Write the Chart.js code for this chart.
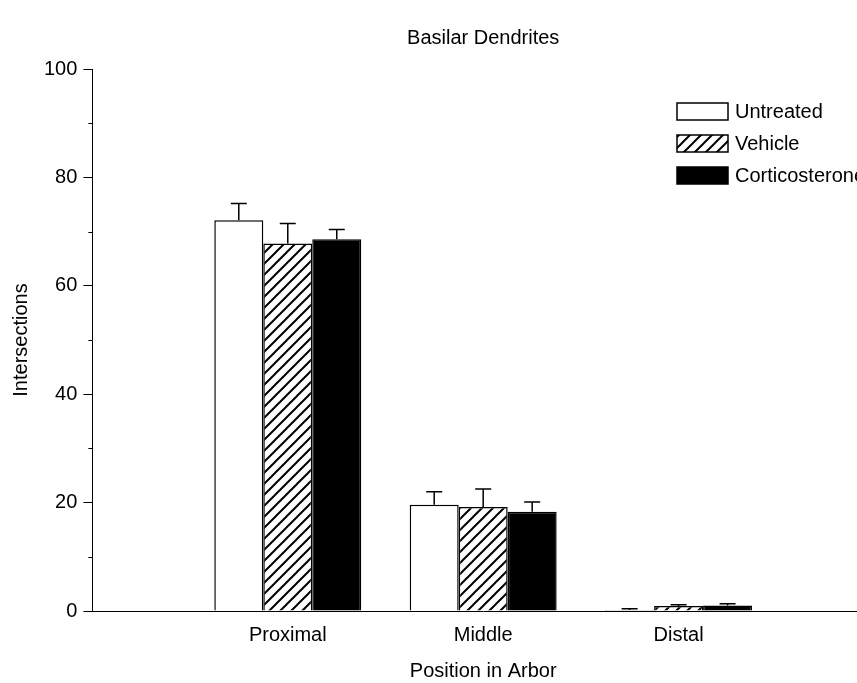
<!DOCTYPE html>
<html>
<head>
<meta charset="utf-8">
<script src="https://cdn.jsdelivr.net/npm/chart.js@4"></script>
<style>
  html, body { margin: 0; padding: 0; background: #fff; overflow: hidden; }
  canvas { display: block; }
</style>
</head>
<body>
<canvas id="myChart" width="886" height="683"></canvas>
<script>
// categories (blank slots at both ends keep the groups where the original axis put them)
var posiciones = ["", "Proximal", "Middle", "Distal", ""];
var series = ["Untreated", "Vehicle", "Corticosterone"];

// means
var untreated = [null, 72.1, 19.6, 0.2, null];
var vehicle = [null, 67.8, 19.2, 0.9, null];
var corticosterone = [null, 68.6, 18.3, 1.0, null];

// SEM (upper error bars only)
var untreatedErr = [null, 3.1, 2.4, 0.2, null];
var vehicleErr = [null, 3.7, 3.3, 0.25, null];
var corticosteroneErr = [null, 1.8, 1.8, 0.35, null];

var yTicksMin = 0;
var yTicksMax = 100;
var yStep = 10;

var fuente = "'Liberation Sans', Arial, Helvetica, sans-serif";
var tam = 20;

// diagonal "/" hatch for the vehicle bars
var hacerRayado = function () {
  var s = 11;
  var c = document.createElement("canvas");
  c.width = s;
  c.height = s;
  var g = c.getContext("2d");
  g.fillStyle = "#fff";
  g.fillRect(0, 0, s, s);
  g.strokeStyle = "#000";
  g.lineWidth = 2;
  g.beginPath();
  g.moveTo(0, s);
  g.lineTo(s, 0);
  g.moveTo(-2, 2);
  g.lineTo(2, -2);
  g.moveTo(s - 2, s + 2);
  g.lineTo(s + 2, s - 2);
  g.stroke();
  return g.createPattern(c, "repeat");
};

var canva = document.getElementById("myChart").getContext("2d");
var rayado = hacerRayado();

var errores = [untreatedErr, vehicleErr, corticosteroneErr];

var barrasError = {
  id: "barrasError",
  afterDatasetsDraw: function (chart) {
    var ctx = chart.ctx;
    var y = chart.scales.y;
    ctx.save();
    ctx.strokeStyle = "#000";
    ctx.lineWidth = 1.5;
    chart.data.datasets.forEach(function (ds, i) {
      var meta = chart.getDatasetMeta(i);
      meta.data.forEach(function (bar, j) {
        var v = ds.data[j];
        var e = errores[i][j];
        if (v == null || e == null) return;
        var top = y.getPixelForValue(v + e);
        var x = bar.x;
        ctx.beginPath();
        ctx.moveTo(x, bar.y);
        ctx.lineTo(x, top);
        ctx.moveTo(x - 8, top);
        ctx.lineTo(x + 8, top);
        ctx.stroke();
      });
    });
    ctx.restore();
  },
};

var ticksMenores = {
  id: "ticksMenores",
  afterDraw: function (chart) {
    var ctx = chart.ctx;
    var y = chart.scales.y;
    var x0 = chart.chartArea.left;
    ctx.save();
    ctx.strokeStyle = "#000";
    ctx.lineWidth = 1;
    y.ticks.forEach(function (t) {
      if (t.value % 20 === 0) return;
      var py = Math.round(y.getPixelForValue(t.value)) + 0.5;
      ctx.beginPath();
      ctx.moveTo(x0 - 4, py);
      ctx.lineTo(x0, py);
      ctx.stroke();
    });
    ctx.restore();
  },
};

var leyenda = {
  id: "leyenda",
  afterDraw: function (chart) {
    var ctx = chart.ctx;
    var left = 677;
    var top = 103;
    var w = 51;
    var h = 17;
    var paso = 32;
    ctx.save();
    ctx.font = tam + "px " + fuente;
    ctx.textBaseline = "middle";
    ctx.textAlign = "left";
    chart.data.datasets.forEach(function (ds, i) {
      var by = top + i * paso;
      ctx.fillStyle = ds.backgroundColor;
      ctx.fillRect(left, by, w, h);
      ctx.strokeStyle = "#000";
      ctx.lineWidth = 1.5;
      ctx.strokeRect(left, by, w, h);
      ctx.fillStyle = "#000";
      ctx.fillText(ds.label, left + w + 7, by + h / 2 + 1);
    });
    ctx.restore();
  },
};

var grafico = new Chart(canva, {
  type: "bar",
  data: {
    labels: posiciones,
    datasets: [
      {
        label: series[0],
        data: untreated,
        backgroundColor: "#ffffff",
        borderColor: "#000",
        borderWidth: 1.5,
      },
      {
        label: series[1],
        data: vehicle,
        backgroundColor: rayado,
        borderColor: "#000",
        borderWidth: 1.5,
      },
      {
        label: series[2],
        data: corticosterone,
        backgroundColor: "#000000",
        borderColor: "#000",
        borderWidth: 1.5,
      },
    ],
  },
  options: {
    responsive: false,
    animation: false,
    layout: {
      padding: { top: 0, bottom: 0, left: 0, right: 0 },
    },
    datasets: {
      bar: {
        categoryPercentage: 0.752,
        barPercentage: 1.0,
        grouped: true,
      },
    },
    scales: {
      x: {
        offset: false,
        grid: { display: false, drawTicks: false },
        border: { display: true, color: "#000", width: 1 },
        ticks: {
          color: "#000",
          padding: 12,
          autoSkip: false,
          maxRotation: 0,
          font: { family: fuente, size: tam },
        },
        title: {
          display: true,
          text: "Position in Arbor",
          color: "#000",
          padding: { top: 0, bottom: 0 },
          font: { family: fuente, size: tam },
        },
      },
      y: {
        min: yTicksMin,
        max: yTicksMax,
        grid: {
          drawOnChartArea: false,
          drawTicks: true,
          tickLength: 9,
          tickColor: function (c) {
            return c.tick && c.tick.value % 20 === 0 ? "#000" : "rgba(0,0,0,0)";
          },
        },
        border: { display: true, color: "#000", width: 1 },
        ticks: {
          stepSize: yStep,
          color: "#000",
          padding: 6,
          autoSkip: false,
          font: { family: fuente, size: tam },
          callback: function (v) {
            return v % 20 === 0 ? v : "";
          },
        },
        title: {
          display: true,
          text: "Intersections",
          color: "#000",
          padding: { top: 9, bottom: 5 },
          font: { family: fuente, size: tam },
        },
      },
    },
    plugins: {
      title: {
        display: true,
        text: "Basilar Dendrites",
        color: "#000",
        fullSize: false,
        padding: { top: 26, bottom: 19 },
        font: { family: fuente, size: tam, weight: "normal" },
      },
      legend: { display: false },
      tooltip: { enabled: false },
    },
  },
  plugins: [barrasError, ticksMenores, leyenda],
});
</script>
</body>
</html>
